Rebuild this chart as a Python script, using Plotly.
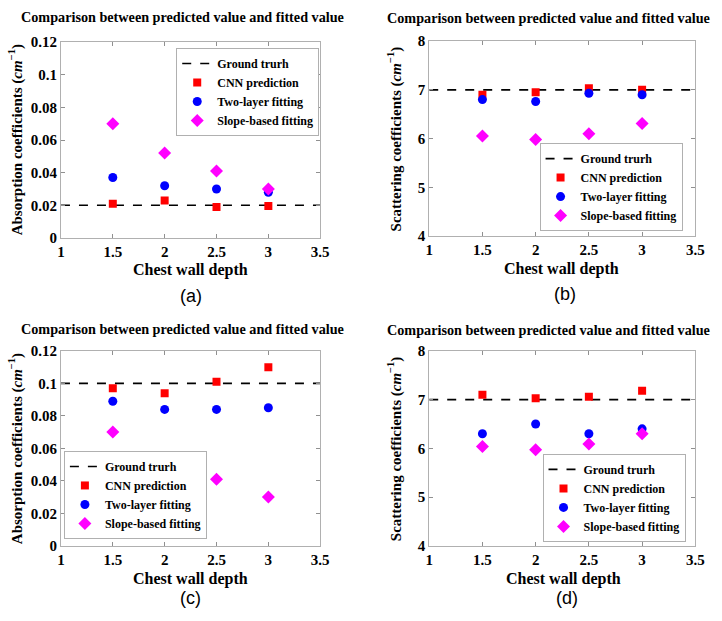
import plotly.graph_objects as go

W, H = 722, 621

depth = [1.5, 2.0, 2.5, 3.0]
x_limits = [1.0, 3.5]
x_ticks = [1, 1.5, 2, 2.5, 3, 3.5]
x_ticklabels = ["1", "1.5", "2", "2.5", "3", "3.5"]
abs_ticks = [0, 0.02, 0.04, 0.06, 0.08, 0.1, 0.12]
abs_ticklabels = ["0", "0.02", "0.04", "0.06", "0.08", "0.1", "0.12"]
sca_ticks = [4, 5, 6, 7, 8]
sca_ticklabels = ["4", "5", "6", "7", "8"]

# panel (a): absorption, ground truth 0.02
a_truth = 0.02
a_cnn = [0.021, 0.023, 0.019, 0.0195]
a_two = [0.037, 0.032, 0.030, 0.028]
a_slope = [0.070, 0.052, 0.041, 0.030]

# panel (b): scattering, ground truth 7
b_truth = 7.0
b_cnn = [6.9, 6.95, 7.03, 7.0]
b_two = [6.8, 6.76, 6.93, 6.9]
b_slope = [6.05, 5.98, 6.1, 6.31]

# panel (c): absorption, ground truth 0.1
c_truth = 0.1
c_cnn = [0.097, 0.094, 0.101, 0.110]
c_two = [0.089, 0.084, 0.084, 0.085]
c_slope = [0.070, 0.052, 0.041, 0.030]

# panel (d): scattering, ground truth 7
d_truth = 7.0
d_cnn = [7.1, 7.03, 7.06, 7.18]
d_two = [6.3, 6.5, 6.3, 6.4]
d_slope = [6.04, 5.97, 6.09, 6.3]

title_text = "Comparison between predicted value and fitted value"
xlabel = "Chest wall depth"
abs_label = "Absorption coefficients (<i>cm</i><sup>−1</sup>)"
sca_label = "Scattering coefficients (<i>cm</i><sup>−1</sup>)"
names = ["Ground trurh", "CNN prediction", "Two-layer fitting", "Slope-based fitting"]
panel_tags = ["(a)", "(b)", "(c)", "(d)"]

SERIF = "Times New Roman, Liberation Serif, DejaVu Serif, serif"
SANS = "Arial, Liberation Sans, sans-serif"

def px_x(p):
    return p / W

def px_y(p):
    return 1 - p / H

# pixel boxes: (left, right, top, bottom)
boxes = [(58, 322, 35, 236), (433, 704, 34, 234), (58, 322, 352, 552), (433, 704, 352, 552)]
panels = [
    (a_truth, a_cnn, a_two, a_slope, "abs"),
    (b_truth, b_cnn, b_two, b_slope, "sca"),
    (c_truth, c_cnn, c_two, c_slope, "abs"),
    (d_truth, d_cnn, d_two, d_slope, "sca"),
]
# legend placement: (x, y, xanchor, yanchor)
legend_pos = [(321, 41, "right", "top"), (691, 229, "right", "bottom"),
              (61, 545, "left", "bottom"), (694, 548, "right", "bottom")]
title_pos = [(182, 9), (554, 10), (182, 330), (554, 331)]
xlab_pos = [(190, 269), (568, 268), (190, 586), (570, 586)]
ylab_pos = [(12, 135), (398, 134), (12, 452), (398, 452)]
tag_pos = [(190, 296), (571, 294), (190, 606), (573, 606)]

fig = go.Figure()
layout = dict(
    width=W, height=H, margin=dict(l=0, r=0, t=0, b=0),
    paper_bgcolor="white", plot_bgcolor="white", showlegend=True,
)
annotations = []

for i, (truth, cnn, two, slope, kind) in enumerate(panels):
    n = "" if i == 0 else str(i + 1)
    xa, ya = "x" + n, "y" + n
    lg = "legend" + n
    fig.add_trace(go.Scatter(x=x_limits, y=[truth, truth], mode="lines",
                             line=dict(color="black", width=1.6, dash="dash"),
                             name=names[0], xaxis=xa, yaxis=ya, legend=lg))
    fig.add_trace(go.Scatter(x=depth, y=cnn, mode="markers",
                             marker=dict(symbol="square", size=8, color="#ff0000"),
                             name=names[1], xaxis=xa, yaxis=ya, legend=lg))
    fig.add_trace(go.Scatter(x=depth, y=two, mode="markers",
                             marker=dict(symbol="circle", size=9, color="#0000ff"),
                             name=names[2], xaxis=xa, yaxis=ya, legend=lg))
    fig.add_trace(go.Scatter(x=depth, y=slope, mode="markers",
                             marker=dict(symbol="diamond", size=10, color="#ff00ff"),
                             name=names[3], xaxis=xa, yaxis=ya, legend=lg))
    l, r, t, b = boxes[i]
    axis_common = dict(showline=True, linecolor="#b0b0b0", linewidth=1, mirror="ticks",
                       ticks="inside", ticklen=4, tickcolor="#909090", showgrid=False,
                       zeroline=False,
                       tickfont=dict(family=SERIF, size=15, color="black", weight="bold"))
    layout["xaxis" + n] = dict(axis_common, domain=[px_x(l), px_x(r)], range=x_limits,
                               tickvals=x_ticks, ticktext=x_ticklabels, anchor=ya)
    if kind == "abs":
        yt = dict(range=[abs_ticks[0], abs_ticks[-1]], tickvals=abs_ticks, ticktext=abs_ticklabels)
    else:
        yt = dict(range=[sca_ticks[0], sca_ticks[-1]], tickvals=sca_ticks, ticktext=sca_ticklabels)
    layout["yaxis" + n] = dict(axis_common, domain=[px_y(b), px_y(t)], anchor=xa, **yt)
    lx, ly, lanc, lvanc = legend_pos[i]
    layout[lg] = dict(x=px_x(lx), y=px_y(ly), xanchor=lanc, yanchor=lvanc,
                      bgcolor="white", bordercolor="#b0b0b0", borderwidth=1,
                      font=dict(family=SERIF, size=12, color="black", weight="bold"),
                      itemwidth=30, tracegroupgap=0)
    tx, ty = title_pos[i]
    annotations.append(dict(text=title_text, x=px_x(tx), y=px_y(ty), xref="paper", yref="paper",
                            showarrow=False, xanchor="center", yanchor="middle",
                            font=dict(family=SERIF, size=14.2, color="black", weight="bold")))
    xx, xy = xlab_pos[i]
    annotations.append(dict(text=xlabel, x=px_x(xx), y=px_y(xy), xref="paper", yref="paper",
                            showarrow=False, xanchor="center", yanchor="middle",
                            font=dict(family=SERIF, size=16, color="black", weight="bold")))
    yx, yy = ylab_pos[i]
    annotations.append(dict(text=abs_label if kind == "abs" else sca_label,
                            x=px_x(yx), y=px_y(yy), xref="paper", yref="paper", textangle=-90,
                            showarrow=False, xanchor="center", yanchor="middle",
                            font=dict(family=SERIF, size=15, color="black", weight="bold")))
    gx, gy = tag_pos[i]
    annotations.append(dict(text=panel_tags[i], x=px_x(gx), y=px_y(gy), xref="paper", yref="paper",
                            showarrow=False, xanchor="center", yanchor="middle",
                            font=dict(family=SANS, size=18, color="black")))

layout["annotations"] = annotations
fig.update_layout(**layout)
fig.write_html("out.html", config={"displayModeBar": False},
               post_script="document.body.style.margin='0px';")
